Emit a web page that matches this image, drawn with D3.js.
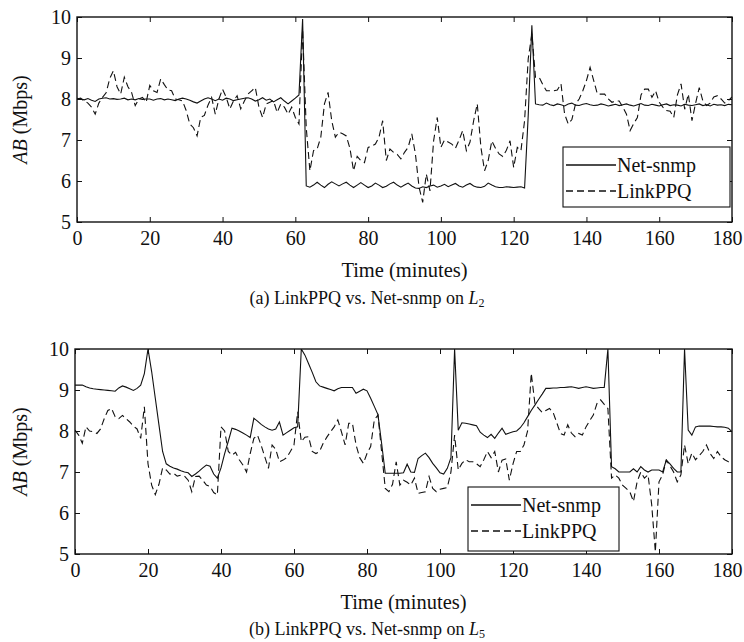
<!DOCTYPE html>
<html>
<head>
<meta charset="utf-8">
<script src="https://cdn.jsdelivr.net/npm/d3@7"></script>
<style>
  body { margin: 0; background: #fff; }
  text { font-family: "Liberation Serif", "Times New Roman", serif; fill: #111; }
</style>
</head>
<body>
<svg id="chart" width="744" height="642"></svg>
<script>
// sample times, one per minute
const minutes = d3.range(0, 181);
const xTicks = [0, 20, 40, 60, 80, 100, 120, 140, 160, 180];
const yTicks = [5, 6, 7, 8, 9, 10];
const seriesNames = ["Net-snmp", "LinkPPQ"];

// (a) link L2
const snmpL2 = [
  8.02, 8.0, 7.98, 8.01, 7.97, 7.94, 8.0, 8.02, 8.03, 8.0,
  8.01, 7.99, 8.0, 8.02, 7.98, 8.0, 7.98, 8.01, 7.99, 8.0,
  8.0, 7.97, 8.0, 8.01, 7.98, 8.0, 7.98, 7.96, 8.0, 8.02,
  8.0, 7.97, 7.93, 7.9, 7.95, 8.0, 8.03, 8.0, 7.96, 8.0,
  7.97, 8.02, 8.0, 7.96, 7.98, 8.0, 8.02, 8.03, 8.0, 7.95,
  7.98, 8.03, 7.97, 8.0, 7.93, 7.98, 8.03, 7.95, 7.88, 7.95,
  8.02, 8.1, 9.95, 5.88, 5.85, 5.9, 5.97, 5.9, 5.84, 5.92,
  5.98, 5.93, 5.88, 5.93, 5.97, 5.9, 5.84, 5.9, 5.96, 5.9,
  5.84, 5.88, 5.95, 5.9, 5.84, 5.87, 5.93, 5.97, 5.9, 5.85,
  5.9, 5.95, 5.88, 5.83, 5.82, 5.86, 5.84, 5.88, 5.9, 5.85,
  5.88, 5.92, 5.86, 5.9, 5.94, 5.88, 5.85, 5.9, 5.94, 5.88,
  5.85, 5.84, 5.87, 5.95, 5.9, 5.86, 5.84, 5.84, 5.86, 5.85,
  5.84, 5.85, 5.86, 5.83, 7.6, 9.8, 7.88, 7.86, 7.85, 7.9,
  7.86, 7.84, 7.88, 7.86, 7.83, 7.88, 7.9, 7.85, 7.84, 7.87,
  7.89, 7.86, 7.84, 7.85, 7.88, 7.86, 7.83, 7.85, 7.87, 7.84,
  7.86, 7.88, 7.85, 7.83, 7.86, 7.89, 7.85, 7.84, 7.87, 7.85,
  7.83, 7.86, 7.88, 7.84, 7.86, 7.85, 7.83, 7.87, 7.85, 7.84,
  7.86, 7.88, 7.84, 7.86, 7.83, 7.87, 7.85, 7.86, 7.84, 7.87,
  7.86
];
const ppqL2 = [
  8.0, 8.02, 7.95, 7.9, 7.8, 7.63, 7.9, 8.04, 8.15, 8.5,
  8.69, 8.3, 8.12, 8.53, 8.3, 8.16, 7.84, 8.0, 8.04, 7.92,
  8.33, 8.2, 8.16, 8.49, 8.35, 8.22, 8.2, 8.0, 7.98, 7.95,
  7.72, 7.39, 7.3, 7.1, 7.55, 7.6, 7.85, 8.04, 7.63, 8.0,
  8.24, 8.04, 7.76, 7.95, 8.08, 7.76, 7.95, 8.12, 8.2, 8.28,
  7.8, 7.55, 7.88, 7.92, 7.96, 7.67, 7.88, 7.8, 7.63, 7.8,
  7.55, 7.39, 9.7, 7.3, 6.25, 6.74, 6.78, 7.07, 7.88, 8.16,
  7.47, 7.07, 7.19, 7.15, 7.1, 6.8, 6.25, 6.6, 6.5, 6.45,
  6.82, 6.85, 6.9, 7.07, 7.47, 6.5, 6.78, 6.7, 6.65, 6.54,
  6.7, 6.82, 7.15, 6.66, 5.85, 5.48, 6.17, 5.76, 6.98, 7.55,
  6.82, 7.0, 6.95, 6.9, 6.8, 7.0, 7.23, 6.74, 6.95, 7.47,
  7.88, 6.82, 6.25, 6.5, 6.98, 6.8, 6.66, 6.6, 6.75, 6.98,
  6.33, 6.82, 6.74, 7.47, 8.98, 9.59, 8.53, 8.53, 8.35, 8.2,
  8.2, 8.2, 8.22, 8.37, 7.63, 7.39, 7.5, 7.88, 8.0, 8.2,
  8.45, 8.77, 8.45, 8.12, 8.12, 8.12, 8.0, 7.92, 7.95, 7.95,
  7.8, 7.63, 7.23, 7.4, 7.55, 8.1, 8.24, 8.24, 8.04, 8.2,
  7.92, 7.8, 7.72, 7.7, 7.55, 8.1, 8.37, 7.75, 8.12, 7.47,
  7.9, 8.28, 7.95, 7.84, 7.9, 8.05, 8.08, 8.0, 7.9, 7.96,
  8.05
];

// (b) link L5
const snmpL5 = [
  9.12, 9.12, 9.12, 9.08, 9.05, 9.03, 9.02, 9.01, 9.0, 8.99,
  8.98, 8.97, 9.05, 9.1, 9.07, 9.03, 8.99, 9.04, 9.12, 9.4,
  10.0, 9.45, 8.8, 8.15, 7.5, 7.2, 7.14, 7.1, 7.07, 7.03,
  7.0, 6.98, 6.89, 6.95, 7.02, 7.1, 7.17, 7.14, 6.95, 6.85,
  7.1, 7.45, 7.75, 8.07, 8.04, 8.0, 7.95, 7.9, 7.84, 8.31,
  8.24, 8.16, 8.1, 8.05, 8.02, 8.05, 8.22, 7.9, 7.96, 8.02,
  8.08, 8.1, 10.0, 9.85, 9.64, 9.43, 9.2, 9.1, 9.07, 9.04,
  9.01, 8.98, 9.03, 9.06, 9.06, 9.06, 9.06, 8.92, 8.97, 9.02,
  8.98, 8.8, 8.6, 8.4, 7.7, 6.97, 6.97, 6.97, 6.97, 6.97,
  6.98, 7.19, 7.0, 6.99, 7.33, 7.4, 7.46, 7.35, 7.21, 7.1,
  6.98, 6.95, 7.09, 7.35, 10.0, 8.02, 8.2, 8.19, 8.17, 8.15,
  8.13, 7.97, 7.9, 7.84, 7.92, 7.82, 7.95, 8.07, 7.92, 7.95,
  7.98, 8.0, 8.08, 8.2, 8.35, 8.5, 8.63, 8.77, 8.9, 9.04,
  9.04, 9.05, 9.05, 9.06, 9.06, 9.07, 9.08, 9.06, 9.04, 9.06,
  9.08, 9.06, 9.04, 9.05, 9.06, 9.06, 10.0, 7.13, 7.08, 7.0,
  7.0, 7.0, 7.0, 7.08, 7.0, 7.13, 7.05, 7.0, 7.05, 7.05,
  7.05, 7.0, 7.29, 7.2, 7.09, 7.0, 7.0, 10.0, 8.02, 7.9,
  8.1, 8.12, 8.12, 8.12, 8.12, 8.11, 8.1, 8.1, 8.09, 8.07,
  7.98
];
const ppqL5 = [
  8.02, 7.9, 7.7, 8.1, 8.0, 7.98, 7.94, 8.05, 8.3, 8.5,
  8.55, 8.35, 8.3, 8.38, 8.3, 8.22, 8.12, 8.05, 7.82, 8.59,
  7.2, 6.68, 6.45, 6.7, 7.1, 7.05, 6.95, 6.97, 6.9, 6.92,
  6.9, 6.8, 6.52, 6.89, 6.9, 6.8, 6.68, 6.65, 6.5, 6.44,
  8.1, 8.0, 7.5, 7.41, 7.48, 7.3, 7.17, 7.0, 7.45, 7.82,
  7.9, 7.65, 7.37, 7.09, 7.66, 7.55, 7.25, 7.29, 7.35, 7.5,
  7.66, 8.47, 7.74, 7.85, 7.86, 7.5, 7.45, 7.5, 7.7, 7.85,
  7.98, 8.1, 8.27, 7.98, 7.66, 8.19, 8.19, 7.66, 7.35, 7.21,
  7.45, 7.62, 8.27, 8.39, 7.5, 6.6, 6.52, 6.7, 7.25, 6.68,
  6.8, 6.75, 6.68, 6.85, 6.48, 6.5, 6.52, 6.89, 6.6, 6.52,
  6.58, 6.6, 6.62, 7.0, 7.9, 7.05, 7.21, 7.3, 7.25, 7.25,
  7.2, 7.13, 7.3, 7.5, 7.35, 7.5, 7.0, 7.29, 7.32, 6.8,
  7.2, 7.5, 7.5, 7.66, 8.0, 9.41, 8.67, 8.55, 8.45, 8.5,
  8.55, 8.45, 8.2, 7.94, 7.9, 8.15, 7.95, 7.86, 7.94, 7.9,
  8.1, 8.25, 8.39, 8.67, 8.76, 8.65, 8.55, 6.85, 6.93, 6.85,
  6.68, 6.6, 6.52, 6.28, 6.76, 7.0, 6.85, 6.93, 6.2, 5.05,
  6.76, 6.93, 7.29, 7.15, 7.0, 6.76, 6.93, 7.66, 7.2, 7.46,
  7.3, 7.4, 7.5, 7.66, 7.45, 7.33, 7.5, 7.37, 7.3, 7.25,
  7.28
];

const svg = d3.select("#chart");

function drawPanel(p) {
  const w = p.right - p.left, h = p.bottom - p.top;
  const g = svg.append("g").attr("transform", `translate(${p.left},${p.top})`);

  const x = d3.scaleLinear().domain([0, 180]).range([0, w]);
  const y = d3.scaleLinear().domain([5, 10]).range([h, 0]);

  g.append("clipPath").attr("id", "clip" + p.id)
    .append("rect").attr("width", w).attr("height", h);

  // axes, ticks pointing inward on all four sides
  const bottomAxis = g.append("g").attr("transform", `translate(0,${h})`)
    .call(d3.axisBottom(x).tickValues(xTicks).tickSize(-5).tickPadding(9).tickFormat(d3.format("d")));
  const leftAxis = g.append("g")
    .call(d3.axisLeft(y).tickValues(yTicks).tickSize(-5).tickPadding(6).tickFormat(d3.format("d")));
  g.append("g").call(d3.axisTop(x).tickValues(xTicks).tickSize(-5).tickFormat(""));
  g.append("g").attr("transform", `translate(${w},0)`)
    .call(d3.axisRight(y).tickValues(yTicks).tickSize(-5).tickFormat(""));
  g.selectAll(".domain").remove();
  g.selectAll(".tick line").attr("stroke", "#111");
  bottomAxis.selectAll("text").style("font-size", "20px").attr("fill", "#111")
    .attr("dx", d => d === 180 ? -5 : 0);
  leftAxis.selectAll("text").style("font-size", "20px").attr("fill", "#111");

  const line = d3.line().x((d, i) => x(minutes[i])).y(d => y(d));

  g.append("path").datum(p.snmp)
    .attr("clip-path", `url(#clip${p.id})`)
    .attr("fill", "none").attr("stroke", "#111").attr("stroke-width", 1.1)
    .attr("d", line);
  g.append("path").datum(p.ppq)
    .attr("clip-path", `url(#clip${p.id})`)
    .attr("fill", "none").attr("stroke", "#111").attr("stroke-width", 1.1)
    .attr("stroke-dasharray", "7,4")
    .attr("d", line);

  g.append("rect").attr("width", w).attr("height", h)
    .attr("fill", "none").attr("stroke", "#111").attr("stroke-width", 1.4);

  // axis titles
  const yl = g.append("text")
    .attr("transform", `translate(${27 - p.left},${h / 2}) rotate(-90)`)
    .attr("text-anchor", "middle")
    .style("font-size", "20px");
  yl.append("tspan").style("font-style", "italic").text("AB");
  yl.append("tspan").text(" (Mbps)");

  g.append("text")
    .attr("x", w / 2).attr("y", h + 55)
    .attr("text-anchor", "middle")
    .style("font-size", "20.5px")
    .text("Time (minutes)");

  // legend
  const lg = g.append("g").attr("transform", `translate(${p.legend[0] - p.left},${p.legend[1] - p.top})`);
  lg.append("rect").attr("width", p.legend[2]).attr("height", p.legend[3])
    .attr("fill", "#fff").attr("stroke", "#111").attr("stroke-width", 1.1);
  seriesNames.forEach((name, i) => {
    const ly = 18 + i * 26;
    lg.append("line").attr("x1", 3).attr("x2", 53).attr("y1", ly).attr("y2", ly)
      .attr("stroke", "#111").attr("stroke-width", 1.3)
      .attr("stroke-dasharray", i === 1 ? "7,4" : null);
    lg.append("text").attr("x", 54).attr("y", ly + 7)
      .style("font-size", "20px").text(name);
  });

  // caption
  const cap = svg.append("text")
    .attr("x", 367).attr("y", p.captionY)
    .attr("text-anchor", "middle")
    .style("font-size", "18px");
  cap.append("tspan").text(p.caption + " ");
  cap.append("tspan").style("font-style", "italic").text("L");
  cap.append("tspan").attr("dy", 3).style("font-size", "12px").text(p.sub);
}

drawPanel({
  id: "a", left: 77, right: 732, top: 17, bottom: 222,
  snmp: snmpL2, ppq: ppqL2,
  legend: [563, 147, 167, 60],
  caption: "(a) LinkPPQ vs. Net-snmp on", sub: "2", captionY: 304
});
drawPanel({
  id: "b", left: 75, right: 732, top: 349, bottom: 554,
  snmp: snmpL5, ppq: ppqL5,
  legend: [468, 487, 151, 64],
  caption: "(b) LinkPPQ vs. Net-snmp on", sub: "5", captionY: 635
});
</script>
</body>
</html>
